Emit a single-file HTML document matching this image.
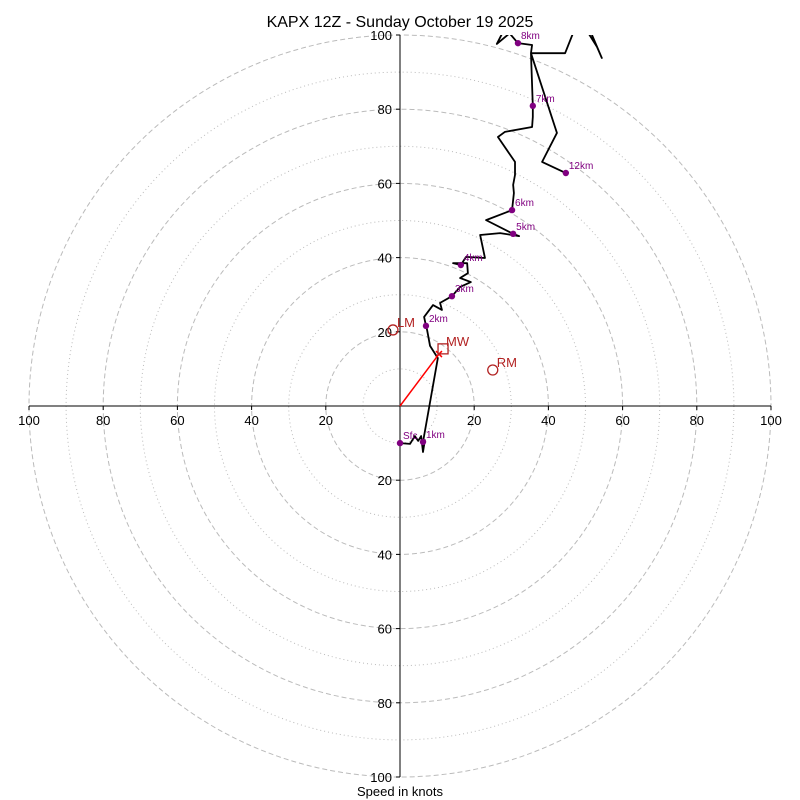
<!DOCTYPE html>
<html><head><meta charset="utf-8"><style>
body{margin:0;background:#fff;}
svg{display:block;font-family:"Liberation Sans","DejaVu Sans",sans-serif;}
</style></head><body>
<svg id="chart" width="800" height="800" viewBox="0 0 800 800">
<defs><clipPath id="clip"><rect x="28" y="35" width="744" height="743"/></clipPath></defs>
<text x="400" y="27" font-size="16" text-anchor="middle">KAPX 12Z - Sunday October 19 2025</text>
<g id="rings"></g><g id="axes"></g>
<g id="trace" clip-path="url(#clip)"></g>
<g id="marks"></g>
<text x="400" y="796" font-size="13" text-anchor="middle">Speed in knots</text>
</svg>
<script>
const traceU=[0,2.7,4,4.9,5.7,6.2,6.7,6.2,10.2,8.1,7.3,7,6.5,8.9,11.3,10.8,14,16.2,19.1,16.2,18.3,18.1,14.3,16.4,17.8,22.9,21.6,27,32.1,30.5,23.2,30.2,30.7,30.5,31,31,26.4,28.3,35.6,35.8,35.8,35.3,35.6,31.8,28.3,26.1,29.6,43.1,51.2,54.4,53.1,49.9,47.2,44.5,35.3,42.3,38.3,44.7];
const traceV=[-10,-10.2,-8.1,-9.4,-8.1,-12.4,-9.2,-9.7,12.9,16.2,20.5,21.6,24,27.2,25.9,27.8,29.6,32.1,33.4,34.5,35.8,38.5,38.5,38,40.2,39.9,46.1,46.6,45.8,46.4,50.1,52.8,57.4,59.6,62.3,65.8,72.5,73.9,75.2,77.9,80.9,95.1,97.3,97.8,101.9,97.6,100.5,105.4,101.3,93.8,96.8,101.9,101.9,95.1,95.1,73.6,65.8,62.8];
const markerLabels=["Sfc","1km","2km","3km","4km","5km","6km","7km","8km","12km"];
const markerU=[0,6.2,7,14,16.4,30.5,30.2,35.8,31.8,44.7];
const markerV=[-10,-9.7,21.6,29.6,38,46.4,52.8,80.9,97.8,62.8];
const stormLabels=["LM","RM"];
const stormU=[-1.9,25];
const stormV=[20.5,9.7];
const meanWind=[11.6,15.4];
const shearEnd=[10.5,14];
const ringValues=[10,20,30,40,50,60,70,80,90,100];
const tickValues=[20,40,60,80,100];

const cx=400,cy=406,k=3.71;
const X=u=>cx+u*k, Y=v=>cy-v*k;
const NS="http://www.w3.org/2000/svg";
function mk(tag,attrs,parent,txt){const e=document.createElementNS(NS,tag);for(const a in attrs)e.setAttribute(a,attrs[a]);if(txt!==undefined)e.textContent=txt;parent.appendChild(e);return e;}
const rings=document.getElementById('rings'),axes=document.getElementById('axes'),trace=document.getElementById('trace'),marks=document.getElementById('marks');
ringValues.forEach(r=>{
  const c=mk('circle',{cx:cx,cy:cy,r:r*k,fill:'none',stroke:'#bbb','stroke-width':1,'stroke-dasharray':r%20===0?'5,3':'1,3'},rings);
  
  
});
const hx=mk('line',{x1:X(-100),y1:cy,x2:X(100),y2:cy,stroke:'#000','stroke-width':1},axes);


const vy=mk('line',{x1:cx,y1:Y(100),x2:cx,y2:Y(-100),stroke:'#000','stroke-width':1},axes);


tickValues.forEach(t=>{
  [-1,1].forEach(s=>{
    mk('line',{x1:X(s*t),y1:cy,x2:X(s*t),y2:cy+4,stroke:'#000'},axes);
    const tx=mk('text',{x:X(s*t),y:cy+19,'font-size':13,'text-anchor':'middle'},axes,String(t));
    
    
    mk('line',{x1:cx-4,y1:Y(s*t),x2:cx,y2:Y(s*t),stroke:'#000'},axes);
    const ty=mk('text',{x:cx-8,y:Y(s*t)+5,'font-size':13,'text-anchor':'end'},axes,String(t));
    
    
  });
});
const pts=traceU.map((u,i)=>X(u)+','+Y(traceV[i])).join(' ');
const pl=mk('polyline',{points:pts,fill:'none',stroke:'#000','stroke-width':1.8,'stroke-linejoin':'round'},trace);


markerLabels.forEach((l,i)=>{
  const c=mk('circle',{cx:X(markerU[i]),cy:Y(markerV[i]),r:3.2,fill:'purple'},marks);
  
  
  const t=mk('text',{x:X(markerU[i])+3,y:Y(markerV[i])-4,'font-size':10,fill:'purple'},marks,l);
  
  
});
const sh=mk('line',{x1:X(0),y1:Y(0),x2:X(shearEnd[0]),y2:Y(shearEnd[1]),stroke:'red','stroke-width':1.5},marks);


const ex=X(shearEnd[0]),ey=Y(shearEnd[1]);
mk('path',{d:`M${ex-3},${ey-3}L${ex+3},${ey+3}M${ex-3},${ey+3}L${ex+3},${ey-3}`,stroke:'red','stroke-width':1.5},marks);
stormLabels.forEach((l,i)=>{
  const c=mk('circle',{cx:X(stormU[i]),cy:Y(stormV[i]),r:5,fill:'none',stroke:'#b22222','stroke-width':1.3},marks);
  
  
  const t=mk('text',{x:X(stormU[i])+4,y:Y(stormV[i])-3,'font-size':13,fill:'#b22222'},marks,l);
  
  
});
const mw=mk('rect',{x:X(meanWind[0])-5,y:Y(meanWind[1])-5,width:10,height:10,fill:'none',stroke:'#b22222','stroke-width':1.3},marks);


const mwt=mk('text',{x:X(meanWind[0])+3,y:Y(meanWind[1])-3,'font-size':13,fill:'#b22222'},marks,'MW');


</script>
</body></html>
